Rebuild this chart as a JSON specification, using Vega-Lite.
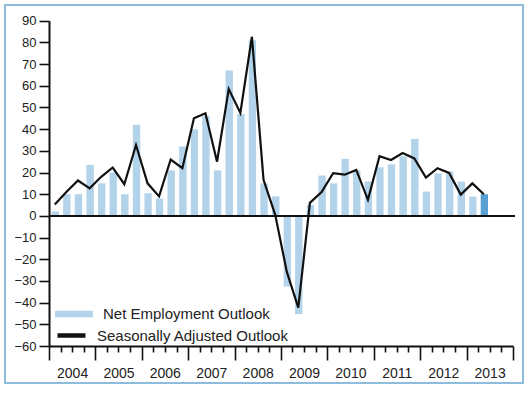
{
  "$schema": "https://vega.github.io/schema/vega-lite/v6.json",
  "width": 518,
  "height": 378,
  "autosize": {"type": "none"},
  "padding": {"left": 5, "top": 5, "right": 7, "bottom": 10},
  "background": "white",
  "config": {
    "view": {"stroke": "#8dbcdc", "strokeWidth": 2},
    "font": "Liberation Sans",
    "axis": {"grid": false, "domainColor": "#111", "tickColor": "#111", "labelColor": "#222", "labelFont": "Liberation Sans", "title": null, "labelOverlap": false},
    "axisY": {"labelOverlap": false, "labelFontSize": 13}
  },
  "data": {"values": [
    {"date": "2004-01-01", "neo": 2, "sa": 5.3, "forecast": false},
    {"date": "2004-04-01", "neo": 10, "sa": 11, "forecast": false},
    {"date": "2004-07-01", "neo": 10, "sa": 16.3, "forecast": false},
    {"date": "2004-10-01", "neo": 23.5, "sa": 12.7, "forecast": false},
    {"date": "2005-01-01", "neo": 15, "sa": 18, "forecast": false},
    {"date": "2005-04-01", "neo": 20, "sa": 22.3, "forecast": false},
    {"date": "2005-07-01", "neo": 10, "sa": 14.6, "forecast": false},
    {"date": "2005-10-01", "neo": 42, "sa": 32.7, "forecast": false},
    {"date": "2006-01-01", "neo": 10.5, "sa": 15, "forecast": false},
    {"date": "2006-04-01", "neo": 8, "sa": 9, "forecast": false},
    {"date": "2006-07-01", "neo": 21, "sa": 26, "forecast": false},
    {"date": "2006-10-01", "neo": 32, "sa": 22, "forecast": false},
    {"date": "2007-01-01", "neo": 40, "sa": 45, "forecast": false},
    {"date": "2007-04-01", "neo": 46, "sa": 47.3, "forecast": false},
    {"date": "2007-07-01", "neo": 21, "sa": 25, "forecast": false},
    {"date": "2007-10-01", "neo": 67, "sa": 58.5, "forecast": false},
    {"date": "2008-01-01", "neo": 47, "sa": 47.5, "forecast": false},
    {"date": "2008-04-01", "neo": 81, "sa": 82.6, "forecast": false},
    {"date": "2008-07-01", "neo": 15, "sa": 16.6, "forecast": false},
    {"date": "2008-10-01", "neo": 9, "sa": 0.5, "forecast": false},
    {"date": "2009-01-01", "neo": -32.6, "sa": -25.7, "forecast": false},
    {"date": "2009-04-01", "neo": -45.3, "sa": -42.3, "forecast": false},
    {"date": "2009-07-01", "neo": 5, "sa": 6, "forecast": false},
    {"date": "2009-10-01", "neo": 18.6, "sa": 11, "forecast": false},
    {"date": "2010-01-01", "neo": 15, "sa": 19.7, "forecast": false},
    {"date": "2010-04-01", "neo": 26.3, "sa": 19, "forecast": false},
    {"date": "2010-07-01", "neo": 21, "sa": 21.2, "forecast": false},
    {"date": "2010-10-01", "neo": 15.8, "sa": 7.4, "forecast": false},
    {"date": "2011-01-01", "neo": 22.4, "sa": 27.5, "forecast": false},
    {"date": "2011-04-01", "neo": 23.8, "sa": 25.8, "forecast": false},
    {"date": "2011-07-01", "neo": 27.5, "sa": 29, "forecast": false},
    {"date": "2011-10-01", "neo": 35.5, "sa": 26.5, "forecast": false},
    {"date": "2012-01-01", "neo": 11.2, "sa": 17.7, "forecast": false},
    {"date": "2012-04-01", "neo": 19.6, "sa": 22, "forecast": false},
    {"date": "2012-07-01", "neo": 20.5, "sa": 19.8, "forecast": false},
    {"date": "2012-10-01", "neo": 15.8, "sa": 9.8, "forecast": false},
    {"date": "2013-01-01", "neo": 8.9, "sa": 15, "forecast": false},
    {"date": "2013-04-01", "neo": 10, "sa": 10, "forecast": true}
  ]},
  "encoding": {
    "x": {
      "field": "date", "type": "temporal", "timeUnit": "utcyearquarter",
      "scale": {"type": "utc", "domain": [{"year": 2004, "month": 1, "date": 1, "utc": true}, {"year": 2014, "month": 1, "date": 1, "utc": true}], "range": [44, 508], "nice": false},
      "axis": {
        "orient": "bottom", "offset": -37,
        "tickCount": {"interval": "month", "step": 3},
        "tickSize": {"condition": {"test": "utcmonth(datum.value) === 0", "value": 14}, "value": 6},
        "tickWidth": 1.6, "domainWidth": 2,
        "labelExpr": "utcmonth(datum.value) === 6 ? utcFormat(datum.value, '%Y') : ''",
        "labelFontSize": 14, "labelPadding": 14, "labelFlush": false, "labelOverlap": false, "labelBound": false
      }
    },
    "y": {
      "field": "neo", "type": "quantitative",
      "scale": {"domain": [-60, 90], "range": [341, 15.7], "nice": false, "zero": false},
      "axis": {"orient": "left", "offset": -44, "values": [-60, -50, -40, -30, -20, -10, 0, 10, 20, 30, 40, 50, 60, 70, 80, 90], "labelOverlap": false, "tickSize": 10, "tickWidth": 1.6, "domainWidth": 2, "labelFontSize": 13, "labelPadding": 3}
    }
  },
  "layer": [
    {
      "transform": [{"filter": "!datum.forecast"}],
      "mark": {"type": "bar", "width": {"band": 0.72}},
      "encoding": {
        "color": {
          "datum": "Net Employment Outlook",
          "scale": {"range": ["#b3d3ea"]},
          "legend": {"orient": "none", "legendX": 50, "legendY": 290, "title": null, "padding": 0, "symbolType": "M-1,-0.17H1V0.17H-1Z", "symbolSize": 1444, "symbolStrokeWidth": 0, "labelFontSize": 15, "labelColor": "#222", "labelOffset": 10, "labelLimit": 0}
        }
      }
    },
    {
      "transform": [{"filter": "datum.forecast"}],
      "mark": {"type": "bar", "width": {"band": 0.72}, "color": "#5a9fd4"}
    },
    {
      "mark": {"type": "rule", "color": "#111", "strokeWidth": 2},
      "encoding": {
        "x": {"datum": {"year": 2004, "month": 1, "date": 1, "utc": true}, "type": "temporal"},
        "x2": {"datum": {"year": 2014, "month": 1, "date": 15, "utc": true}},
        "y": {"datum": 0, "type": "quantitative"}
      }
    },
    {
      "mark": {"type": "line", "strokeWidth": 2.2},
      "encoding": {
        "x": {"field": "date", "type": "temporal", "timeUnit": "utcyearquarter", "bandPosition": 0.5},
        "y": {"field": "sa", "type": "quantitative"},
        "stroke": {
          "datum": "Seasonally Adjusted Outlook",
          "scale": {"range": ["#111111"]},
          "legend": {"orient": "none", "legendX": 50, "legendY": 314, "title": null, "padding": 0, "symbolSize": 784, "symbolStrokeWidth": 4.5, "labelFontSize": 15, "labelColor": "#222", "labelOffset": 9, "labelLimit": 0}
        }
      }
    }
  ]
}
